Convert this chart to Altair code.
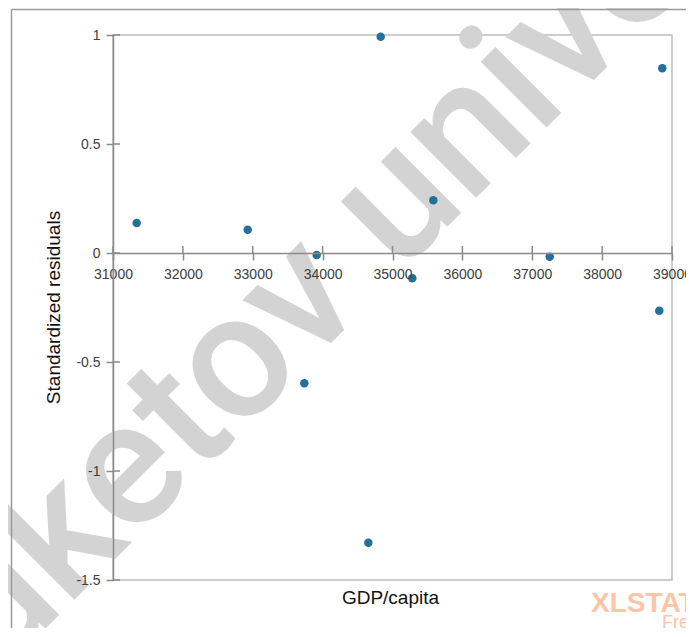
import altair as alt
import pandas as pd

# Data
gdp = [31339, 32928, 33915, 34831, 35584, 35283, 37250, 38861, 38818, 33738, 34654]
resid = [0.138, 0.107, -0.009, 0.992, 0.242, -0.116, -0.017, 0.847, -0.265, -0.598, -1.329]
x_ticks = [31000, 32000, 33000, 34000, 35000, 36000, 37000, 38000, 39000]
y_ticks = [-1.5, -1.0, -0.5, 0.0, 0.5, 1.0]
watermark = ["Buketov university"]
brand = ["XLSTAT"]
brand_sub = ["Free"]

W, H = 559, 545
df = pd.DataFrame({"gdp": gdp, "resid": resid})
xt = pd.DataFrame({"t": x_ticks})
yt = pd.DataFrame({"t": y_ticks})

xscale = alt.Scale(domain=[31000, 39000], nice=False, zero=False)
yscale = alt.Scale(domain=[-1.5, 1], nice=False, zero=False)
FONT = "Liberation Sans"
AXC = "#8a8a8a"

wm = alt.Chart(pd.DataFrame({"txt": watermark})).mark_text(
    align="left", baseline="alphabetic", angle=315, font="Roboto", fontSize=176,
    fontWeight=500, color="#d3d3d3"
).encode(x=alt.value(-194), y=alt.value(720), text="txt:N")

frame_left = alt.Chart(pd.DataFrame({"a": [0]})).mark_rule(
    color="#9a9a9a", strokeWidth=1.5
).encode(x=alt.value(-101.5), y=alt.value(-25.5), y2=alt.value(H + 60))
frame_top = alt.Chart(pd.DataFrame({"a": [0]})).mark_rule(
    color="#9a9a9a", strokeWidth=1.5
).encode(x=alt.value(-101.5), x2=alt.value(W + 40), y=alt.value(-25.5))

pts = alt.Chart(df).mark_circle(size=72, color="#24709c", opacity=1).encode(
    x=alt.X("gdp:Q", scale=xscale,
            axis=alt.Axis(values=x_ticks, format="d", offset=-327, zindex=1,
                          title="GDP/capita", titleFont=FONT, titleFontSize=19,
                          titleFontWeight="normal", titleColor="#111",
                          titleX=277, titleY=350, titleBaseline="alphabetic",
                          titleAnchor="middle", titleAlign="center",
                          labelFont=FONT, labelFontSize=14, labelColor="#404040",
                          labelPadding=7, tickSize=7, tickColor=AXC, tickWidth=1.5,
                          domainColor=AXC, domainWidth=1.5, grid=False,
                          labelOverlap=False, labelFlush=False)),
    y=alt.Y("resid:Q", scale=yscale,
            axis=alt.Axis(values=y_ticks, labelExpr="datum.value + ''", zindex=1,
                          title="Standardized residuals", titleFont=FONT,
                          titleFontSize=19, titleFontWeight="normal",
                          titleColor="#111", titleAngle=270, titleX=-54,
                          titleY=272, titleBaseline="alphabetic",
                          titleAlign="center",
                          labelFont=FONT, labelFontSize=14, labelColor="#404040",
                          labelPadding=6, tickSize=7, tickColor=AXC, tickWidth=1.5,
                          domainColor=AXC, domainWidth=1.5, grid=False,
                          labelOverlap=False, labelFlush=False)),
)

xin = alt.Chart(xt).mark_rule(color=AXC, strokeWidth=1.5, y2Offset=-7).encode(
    x=alt.X("t:Q", scale=xscale), y=alt.datum(0, scale=yscale), y2=alt.datum(0)
)
yin = alt.Chart(yt).mark_rule(color=AXC, strokeWidth=1.5).encode(
    y=alt.Y("t:Q", scale=yscale), x=alt.value(0), x2=alt.value(7)
)

b1 = alt.Chart(pd.DataFrame({"txt": brand})).mark_text(
    align="left", baseline="alphabetic", font=FONT, fontSize=28, fontWeight="bold",
    color="#ffc3a6"
).encode(x=alt.value(478), y=alt.value(577), text="txt:N")
b2 = alt.Chart(pd.DataFrame({"txt": brand_sub})).mark_text(
    align="left", baseline="alphabetic", font=FONT, fontSize=18,
    color="#ffc3a6"
).encode(x=alt.value(549), y=alt.value(593), text="txt:N")

chart = alt.layer(wm, frame_left, frame_top, xin, yin, pts, b1, b2).properties(
    width=W, height=H,
    padding={"left": 105, "top": 27, "right": 14, "bottom": 48},
    autosize=alt.AutoSizeParams(type="none"),
).configure_view(stroke="#bdbdbd", strokeWidth=1.5)

chart.save("out.html", embed_options={"renderer": "svg", "actions": False})
